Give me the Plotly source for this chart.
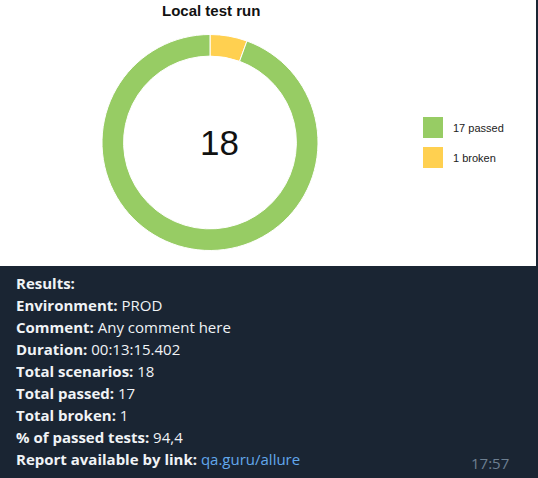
import plotly.graph_objects as go

W, H = 538, 478

# ---- data ----
labels = ["passed", "broken"]
values = [17, 1]
colors = ["#97cc64", "#ffd050"]
total = sum(values)
title_text = "Local test run"

info_keys = ["Results:", "Environment:", "Comment:", "Duration:", "Total scenarios:",
             "Total passed:", "Total broken:", "% of passed tests:", "Report available by link:"]
info_vals = ["", "PROD", "Any comment here", "00:13:15.402", "18", "17", "1", "94,4", "qa.guru/allure"]
time_text = "17:57"


def px(x):
    return x / W


def py(y):
    return 1 - y / H


fig = go.Figure()

# slices drawn clockwise from 12 o'clock: broken first, then passed
fig.add_trace(go.Pie(
    labels=labels[::-1], values=values[::-1], sort=False, direction="clockwise", rotation=0,
    hole=0.80, marker=dict(colors=colors[::-1], line=dict(color="white", width=1)),
    textinfo="none", hoverinfo="label+value", showlegend=False,
    domain=dict(x=[px(102), px(318)], y=[py(252), py(33)]),
))

shapes = [dict(type="rect", xref="paper", yref="paper", x0=0, x1=px(536), y0=py(266), y1=1,
               fillcolor="white", line=dict(width=0), layer="below")]
annotations = []

# title
annotations.append(dict(text=f"<b>{title_text}</b>", x=px(211), y=py(11), xref="paper", yref="paper",
                        showarrow=False, xanchor="center", yanchor="middle",
                        font=dict(family="Liberation Sans, Arial", size=15, color="#111")))
# centre total
annotations.append(dict(text=str(total), x=px(219), y=py(143), xref="paper", yref="paper",
                        showarrow=False, xanchor="center", yanchor="middle",
                        font=dict(family="Liberation Sans, Arial", size=35, color="#111")))

# legend (manual)
for i, (lab, val, col) in enumerate(zip(labels, values, colors)):
    y0 = 117 + i * 30
    shapes.append(dict(type="rect", xref="paper", yref="paper", x0=px(423), x1=px(443),
                       y0=py(y0 + 21), y1=py(y0), fillcolor=col, line=dict(width=0)))
    annotations.append(dict(text=f"{val} {lab}", x=px(451), y=py(y0 + 11), xref="paper", yref="paper",
                            showarrow=False, xanchor="left", yanchor="middle",
                            font=dict(family="Liberation Sans, Arial", size=11, color="#222")))

# message text
for i, (k, v) in enumerate(zip(info_keys, info_vals)):
    vcol = "#62a8ec" if i == len(info_keys) - 1 else "#f0f3f6"
    txt = f"<b>{k}</b>" + (f" <span style='color:{vcol}'>{v}</span>" if v else "")
    annotations.append(dict(text=txt, x=px(14), y=py(283 + i * 22), xref="paper", yref="paper",
                            showarrow=False, xanchor="left", yanchor="middle",
                            font=dict(family="Open Sans", size=15, color="#f0f3f6")))

annotations.append(dict(text=time_text, x=px(511), y=py(463), xref="paper", yref="paper",
                        showarrow=False, xanchor="right", yanchor="middle",
                        font=dict(family="Open Sans", size=15, color="#6d7f91")))

fig.update_layout(
    width=W, height=H, margin=dict(l=0, r=0, t=0, b=0),
    paper_bgcolor="#1a2533", plot_bgcolor="#1a2533",
    shapes=shapes, annotations=annotations, showlegend=False,
)

fig.write_html("out.html")
